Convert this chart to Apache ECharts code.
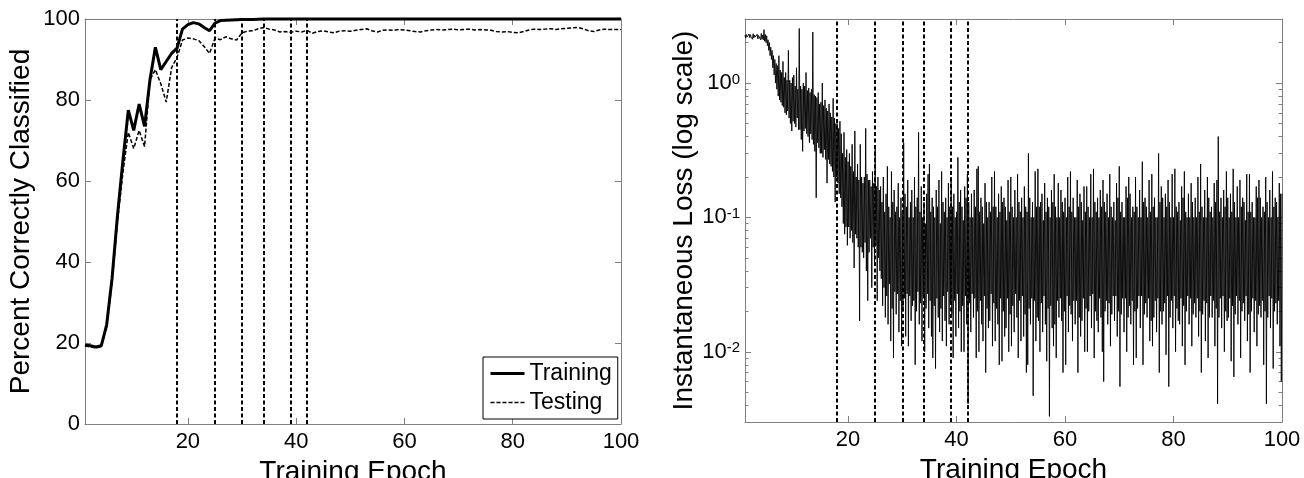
<!DOCTYPE html>
<html><head><meta charset="utf-8">
<script src="https://cdn.jsdelivr.net/npm/echarts@6/dist/echarts.min.js"></script>
<style>html,body{margin:0;padding:0;background:#fff}#c{width:1304px;height:478px}</style>
</head><body><div id="c"></div>
<script>
// ---------- data ----------
const epochCount = 100;
const trainAcc = [19.5,19.3,19.0,19.3,24.5,36,51.5,65,77.5,72.5,
  79,73.5,85,93,87.5,89.5,91.5,92.8,97.5,98.6,
  99.1,98.8,97.9,97.1,99.0,99.6,99.7,99.75,99.8,99.85,
  99.9,99.9,99.95,100,100,100,100,100,100,100,
  100,100,100,100,100,100,100,100,100,100,
  100,100,100,100,100,100,100,100,100,100,
  100,100,100,100,100,100,100,100,100,100,
  100,100,100,100,100,100,100,100,100,100,
  100,100,100,100,100,100,100,100,100,100,
  100,100,100,100,100,100,100,100,100,100];
const testAcc = [19.3,19.0,18.8,19.1,24,35,50,62,72,68,
  72.5,68.5,85,87.5,84,79.5,88,90.5,94.8,95.3,
  95.1,94.7,93.2,91.5,95.2,94.9,95.6,95.1,94.8,96.6,
  97.0,97.1,97.6,97.9,97.5,97.3,96.8,96.9,96.7,97.0,
  96.8,97.2,96.5,96.9,97.1,96.8,96.6,97.0,97.1,97.0,
  97.2,97.4,97.6,97.1,96.8,97.2,97.3,97.2,97.4,97.3,
  97.1,96.9,96.8,97.1,97.3,97.4,97.3,97.4,97.5,97.3,
  97.4,97.5,97.3,97.4,97.3,97.2,96.9,96.8,96.9,96.7,
  96.6,96.9,97.3,97.5,97.4,97.5,97.6,97.4,97.6,97.7,
  97.8,97.9,97.6,97.1,96.9,97.3,97.5,97.4,97.4,97.4];
const eventEpochs = [18,25,30,34,39,42];
const lossSamplesPerEpoch = 8;
const lossTrace = [
 2.28,2.16,2.3,2.2,2.26,2.14,2.32,2.18,
 2.3,2.2,2.25,2.12,2.33,2.17,2.28,2.2,
 2.27,2.15,2.31,2.13,2.26,2.2,2.3,2.1,
 2.34,2.12,2.28,2.1,2.5,2.05,2.3,2.0,
 2.25,1.9,2.1,1.75,2.0,1.6,1.85,1.5,
 1.75,1.3,1.6,1.15,1.5,1.0,1.4,0.9,
 1.35,0.8,1.6,0.75,1.25,0.72,1.2,0.68,
 1.45,0.66,1.1,0.6,1.2,0.58,1.05,0.62,
 1.75,0.55,1.05,0.5,1.0,0.44,1.1,0.52,
 1.15,0.5,0.95,0.47,1.3,0.55,0.9,0.45,
 2.55,0.45,0.95,0.38,0.9,0.31,1.0,0.44,
 0.95,0.46,1.2,0.42,0.88,0.4,0.92,0.36,
 0.85,0.42,0.9,0.38,2.4,0.35,0.82,0.31,
 0.8,0.14,0.78,0.36,0.85,0.33,0.7,0.3,
 0.72,0.3,1.0,0.28,0.68,0.32,0.75,0.27,
 0.65,0.18,0.62,0.27,0.7,0.25,0.6,0.24,
 0.56,0.22,0.77,0.2,0.55,0.13,0.5,0.2,
 0.5,0.18,0.46,0.15,0.52,0.14,0.42,0.12,
 0.3,0.09,0.43,0.075,0.28,0.085,0.32,0.062,
 0.26,0.085,0.3,0.07,0.24,0.08,0.35,0.065,
 0.22,0.042,0.44,0.075,0.2,0.07,0.25,0.06,
 0.19,0.017,0.35,0.06,0.2,0.055,0.18,0.05,
 0.2,0.065,0.46,0.04,0.21,0.024,0.19,0.055,
 0.19,0.07,0.17,0.03,0.22,0.06,0.18,0.045,
 0.33,0.062,0.17,0.024,0.2,0.05,0.16,0.04,
 0.17,0.035,0.13,0.022,0.2,0.03,0.11,0.018,
 0.15,0.026,0.24,0.016,0.12,0.032,0.1,0.012,
 0.22,0.021,0.13,0.009,0.16,0.028,0.11,0.019,
 0.12,0.027,0.18,0.014,0.1,0.024,0.14,0.011,
 0.11,0.02,0.36,0.025,0.15,0.013,0.12,0.027,
 0.19,0.011,0.1,0.026,0.13,0.017,0.16,0.022,
 0.1,0.024,0.2,0.008,0.12,0.02,0.14,0.028,
 0.43,0.016,0.11,0.023,0.17,0.012,0.1,0.026,
 0.13,0.01,0.09,0.021,0.15,0.027,0.21,0.015,
 0.25,0.024,0.11,0.013,0.14,0.009,0.12,0.022,
 0.1,0.0075,0.16,0.025,0.12,0.018,0.19,0.014,
 0.09,0.021,0.22,0.012,0.13,0.026,0.11,0.017,
 0.14,0.011,0.1,0.028,0.18,0.016,0.12,0.023,
 0.2,0.019,0.12,0.009,0.15,0.024,0.1,0.013,
 0.11,0.027,0.28,0.015,0.13,0.02,0.16,0.01,
 0.12,0.022,0.095,0.01,0.17,0.026,0.14,0.016,
 0.21,0.0041,0.13,0.023,0.1,0.014,0.15,0.027,
 0.1,0.018,0.16,0.025,0.12,0.009,0.23,0.02,
 0.24,0.01,0.11,0.024,0.14,0.016,0.12,0.012,
 0.09,0.026,0.18,0.007,0.13,0.021,0.1,0.015,
 0.13,0.017,0.11,0.027,0.2,0.011,0.12,0.023,
 0.22,0.012,0.12,0.021,0.1,0.016,0.15,0.008,
 0.11,0.025,0.17,0.0085,0.13,0.02,0.14,0.013,
 0.12,0.015,0.095,0.025,0.19,0.01,0.11,0.019,
 0.2,0.011,0.12,0.022,0.1,0.014,0.16,0.027,
 0.1,0.018,0.21,0.009,0.13,0.024,0.11,0.012,
 0.14,0.026,0.1,0.013,0.17,0.019,0.12,0.007,
 0.11,0.008,0.3,0.021,0.14,0.016,0.1,0.025,
 0.13,0.0047,0.1,0.024,0.22,0.012,0.12,0.018,
 0.23,0.017,0.12,0.01,0.13,0.023,0.15,0.014,
 0.095,0.026,0.18,0.016,0.11,0.0085,0.14,0.021,
 0.12,0.0033,0.1,0.022,0.16,0.015,0.13,0.011,
 0.21,0.016,0.12,0.009,0.1,0.024,0.18,0.018,
 0.1,0.025,0.16,0.017,0.13,0.007,0.11,0.02,
 0.14,0.008,0.1,0.026,0.2,0.014,0.12,0.022,
 0.22,0.019,0.11,0.012,0.14,0.024,0.1,0.016,
 0.1,0.024,0.19,0.007,0.12,0.018,0.15,0.013,
 0.13,0.017,0.095,0.025,0.17,0.01,0.11,0.021,
 0.17,0.01,0.12,0.02,0.1,0.026,0.21,0.015,
 0.1,0.027,0.23,0.009,0.13,0.02,0.11,0.017,
 0.14,0.014,0.1,0.025,0.16,0.018,0.12,0.01,
 0.19,0.006,0.13,0.02,0.11,0.024,0.15,0.016,
 0.1,0.023,0.21,0.011,0.12,0.019,0.1,0.026,
 0.13,0.017,0.095,0.026,0.18,0.013,0.14,0.02,
 0.24,0.0055,0.11,0.019,0.13,0.025,0.1,0.014,
 0.1,0.025,0.17,0.01,0.14,0.018,0.2,0.022,
 0.15,0.016,0.1,0.024,0.12,0.008,0.11,0.02,
 0.2,0.009,0.12,0.021,0.1,0.026,0.16,0.015,
 0.1,0.026,0.26,0.008,0.13,0.019,0.14,0.023,
 0.12,0.018,0.1,0.025,0.19,0.012,0.11,0.017,
 0.21,0.011,0.12,0.018,0.14,0.024,0.1,0.014,
 0.1,0.025,0.3,0.007,0.13,0.02,0.17,0.016,
 0.14,0.02,0.1,0.023,0.15,0.0095,0.12,0.026,
 0.19,0.0055,0.13,0.018,0.1,0.024,0.21,0.015,
 0.1,0.026,0.23,0.01,0.12,0.021,0.11,0.017,
 0.13,0.016,0.095,0.025,0.17,0.011,0.14,0.022,
 0.22,0.008,0.11,0.02,0.1,0.026,0.15,0.016,
 0.1,0.025,0.18,0.011,0.13,0.019,0.1,0.023,
 0.14,0.018,0.1,0.025,0.2,0.013,0.11,0.02,
 0.25,0.007,0.12,0.019,0.1,0.024,0.16,0.012,
 0.1,0.023,0.2,0.009,0.14,0.018,0.11,0.026,
 0.12,0.018,0.1,0.024,0.18,0.011,0.13,0.021,
 0.19,0.0041,0.4,0.018,0.11,0.025,0.14,0.015,
 0.1,0.026,0.16,0.01,0.12,0.02,0.22,0.017,
 0.14,0.018,0.1,0.025,0.15,0.0085,0.11,0.022,
 0.23,0.0065,0.13,0.019,0.1,0.026,0.17,0.016,
 0.1,0.024,0.19,0.009,0.12,0.02,0.14,0.023,
 0.13,0.017,0.095,0.026,0.21,0.012,0.11,0.019,
 0.21,0.007,0.11,0.02,0.13,0.025,0.1,0.014,
 0.1,0.024,0.17,0.011,0.14,0.019,0.19,0.022,
 0.14,0.018,0.1,0.024,0.12,0.008,0.11,0.02,
 0.2,0.0041,0.13,0.018,0.1,0.026,0.16,0.015,
 0.1,0.025,0.22,0.0075,0.12,0.02,0.14,0.023,
 0.13,0.016,0.1,0.024,0.18,0.011,0.15,0.006,
 0.15];
const xTicks = [20,40,60,80,100];
const logMajorTicks = [0.01,0.1,1];
const logMinorTicks = [0.004,0.005,0.006,0.007,0.008,0.009,
  0.02,0.03,0.04,0.05,0.06,0.07,0.08,0.09,
  0.2,0.3,0.4,0.5,0.6,0.7,0.8,0.9,2];
const seriesNames = ['Training','Testing'];
const xName = 'Training Epoch';
const accName = 'Percent Correctly Classified';
const lossName = 'Instantaneous Loss (log scale)';

// ---------- chart ----------
const FONT = '"Liberation Sans", Arial, Helvetica, sans-serif';
const GREY = '#808080';
const epochs = Array.from({length: epochCount}, (_, i) => i + 1);
const lossData = lossTrace.map((v, i) => [1 + i / lossSamplesPerEpoch, v]);
const trainStyle = {color: '#000', width: 3};
const testStyle = {color: '#000', width: 1.5, type: [4, 2]};

function xAxisDef(grid, pos, withLabel) {
  return {
    type: 'value', gridIndex: grid, position: pos, min: 1, max: 100,
    name: withLabel ? xName : '', nameLocation: 'middle', nameGap: 28,
    nameTextStyle: {fontSize: 28, color: '#000', fontFamily: FONT},
    splitLine: {show: false},
    axisLine: {show: true, onZero: false, lineStyle: {color: GREY, width: 1}},
    axisTick: {show: true, inside: true, length: 6, customValues: xTicks, lineStyle: {color: GREY}},
    axisLabel: {show: withLabel, customValues: xTicks, fontSize: 22, color: '#000', margin: 7, fontFamily: FONT}
  };
}
function accAxisDef(pos, withLabel) {
  return {
    type: 'value', gridIndex: 0, position: pos, min: 0, max: 100, interval: 20,
    name: withLabel ? accName : '', nameLocation: 'middle', nameGap: 50,
    nameTextStyle: {fontSize: 28, color: '#000', fontFamily: FONT},
    splitLine: {show: false},
    axisLine: {show: true, lineStyle: {color: GREY, width: 1}},
    axisTick: {show: true, inside: true, length: 6, lineStyle: {color: GREY}},
    axisLabel: {show: withLabel, fontSize: 22, color: '#000', margin: 5, fontFamily: FONT}
  };
}
function logAxisDef(pos, major, withLabel) {
  return {
    type: 'log', logBase: 10, gridIndex: 1, position: pos, min: 0.003, max: 3,
    name: withLabel ? lossName : '', nameLocation: 'middle', nameGap: 28,
    nameTextStyle: {fontSize: 28, color: '#000', fontFamily: FONT},
    splitLine: {show: false}, minorTick: {show: false},
    axisLine: {show: major, lineStyle: {color: GREY, width: 1}},
    axisTick: {show: true, inside: true, length: major ? 6 : 3.5,
      customValues: major ? logMajorTicks : logMinorTicks, lineStyle: {color: GREY}},
    axisLabel: withLabel ? {
      show: true, customValues: logMajorTicks, margin: 5,
      formatter: v => '{b|10}{s|' + Math.round(Math.log10(v)) + '}',
      rich: {
        b: {fontSize: 22, color: '#000', fontFamily: FONT, lineHeight: 22},
        s: {fontSize: 15, color: '#000', fontFamily: FONT, verticalAlign: 'top', lineHeight: 10}
      }
    } : {show: false}
  };
}
const vLines = {
  silent: true, symbol: ['none', 'none'], animation: false,
  label: {show: false},
  lineStyle: {color: '#000', width: 2, type: [4, 2.5]},
  data: eventEpochs.map(e => ({xAxis: e}))
};

const chart = echarts.init(document.getElementById('c'), null, {renderer: 'canvas'});
chart.setOption({
  animation: false,
  backgroundColor: '#fff',
  textStyle: {fontFamily: FONT},
  grid: [
    {left: 85, right: 683, top: 19, bottom: 54, outerBoundsMode: 'none', containLabel: false},
    {left: 745, right: 22, top: 19, bottom: 56, outerBoundsMode: 'none', containLabel: false}
  ],
  legend: {
    data: [
      {name: seriesNames[0], lineStyle: trainStyle},
      {name: seriesNames[1], lineStyle: testStyle}
    ],
    orient: 'vertical', left: 483, top: 357,
    padding: [5, 6, 5, 6], itemGap: 6, itemWidth: 34, itemHeight: 14,
    itemStyle: {opacity: 0},
    borderColor: '#000', borderWidth: 1, backgroundColor: '#fff',
    textStyle: {fontSize: 23, color: '#000', fontFamily: FONT},
    selectedMode: false
  },
  xAxis: [xAxisDef(0, 'bottom', true), xAxisDef(0, 'top', false),
          xAxisDef(1, 'bottom', true), xAxisDef(1, 'top', false)],
  yAxis: [accAxisDef('left', true), accAxisDef('right', false),
          logAxisDef('left', true, true), logAxisDef('left', false, false),
          logAxisDef('right', true, false), logAxisDef('right', false, false)],
  series: [
    {name: seriesNames[0], type: 'line', xAxisIndex: 0, yAxisIndex: 0, symbol: 'none', clip: false,
     data: epochs.map((e, i) => [e, trainAcc[i]]), lineStyle: trainStyle, itemStyle: {color: '#000'},
     markLine: vLines, z: 3},
    {name: seriesNames[1], type: 'line', xAxisIndex: 0, yAxisIndex: 0, symbol: 'none', clip: false,
     data: epochs.map((e, i) => [e, testAcc[i]]), lineStyle: testStyle, itemStyle: {color: '#000'}, z: 2},
    {name: 'Loss', type: 'line', xAxisIndex: 2, yAxisIndex: 2, symbol: 'none',
     data: lossData, lineStyle: {color: '#000', width: 0.9}, itemStyle: {color: '#000'},
     markLine: vLines}
  ]
});
</script></body></html>
